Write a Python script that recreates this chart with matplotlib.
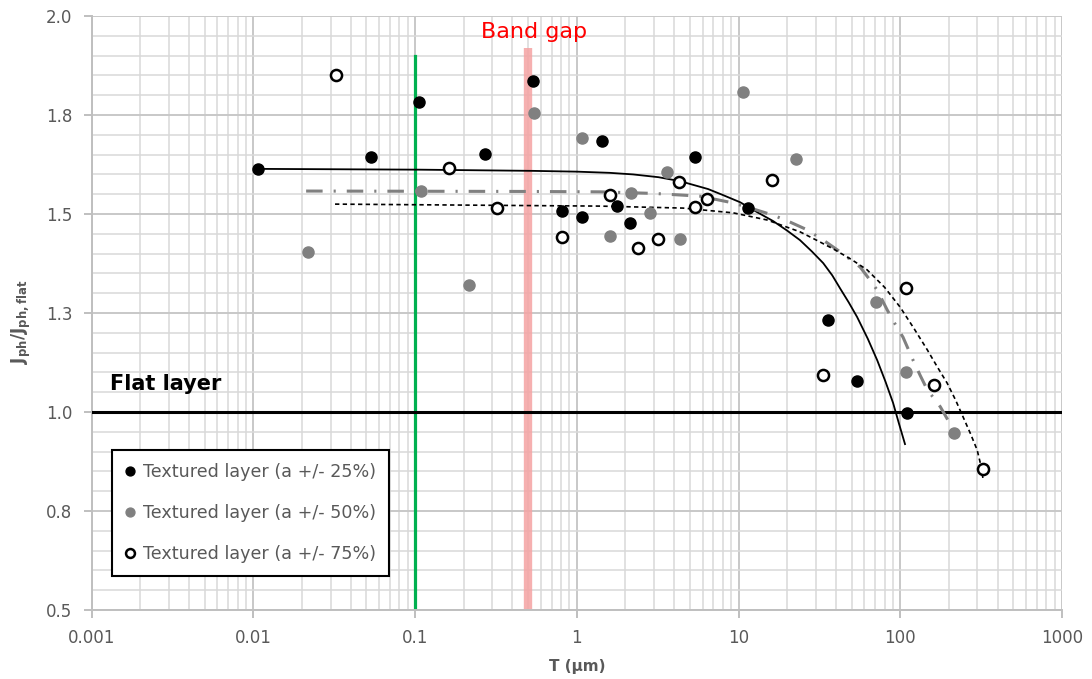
import numpy as np
import matplotlib
matplotlib.use('Agg')
import matplotlib.pyplot as plt
from matplotlib.ticker import FixedLocator, MultipleLocator, LogLocator, NullFormatter

# measured points, T in um, ratio Jph/Jph,flat
t_25 = [0.0107, 0.0537, 0.106, 0.271, 0.537, 0.811, 1.08, 1.43, 1.77, 2.14, 5.39, 11.4, 35.8, 54.1, 110]
j_25 = [1.614, 1.643, 1.783, 1.652, 1.836, 1.508, 1.492, 1.684, 1.520, 1.477, 1.644, 1.514, 1.232, 1.078, 0.997]

t_50 = [0.0218, 0.109, 0.216, 0.545, 1.08, 1.61, 2.17, 2.84, 3.62, 4.35, 10.7, 22.6, 71.0, 109, 215]
j_50 = [1.405, 1.558, 1.321, 1.755, 1.692, 1.444, 1.553, 1.503, 1.606, 1.437, 1.809, 1.640, 1.278, 1.101, 0.947]

t_75 = [0.0325, 0.162, 0.321, 0.811, 1.61, 2.39, 3.18, 4.29, 5.39, 6.42, 16.1, 33.4, 109, 162, 326]
j_75 = [1.851, 1.616, 1.515, 1.442, 1.548, 1.414, 1.437, 1.581, 1.518, 1.537, 1.586, 1.093, 1.313, 1.068, 0.856]

# trend lines
fit_25_t = [0.0107, 0.107, 0.53, 1.0, 1.6, 2.23, 3.2, 4.35, 6.49, 8.0, 10.2, 13, 16.4, 20, 24.0, 28.5,
            33.4, 38, 42.5, 48, 54.1, 63, 72, 81, 90.3, 98, 107]
fit_25_j = [1.614, 1.612, 1.609, 1.607, 1.604, 1.600, 1.593, 1.583, 1.563, 1.548, 1.530, 1.505, 1.482,
            1.458, 1.434, 1.405, 1.376, 1.345, 1.312, 1.277, 1.240, 1.185, 1.131, 1.077, 1.023, 0.972, 0.919]

fit_50_t = [0.0212, 0.5, 1.39, 3.0, 5.79, 9.26, 12.5, 16.4, 21, 26.6, 34, 43, 56.5, 64, 72, 83, 93,
            104, 120, 133, 147, 162, 177, 195, 212, 228]
fit_50_j = [1.558, 1.557, 1.556, 1.552, 1.545, 1.528, 1.512, 1.497, 1.479, 1.460, 1.432, 1.403, 1.366,
            1.337, 1.308, 1.258, 1.222, 1.189, 1.131, 1.092, 1.056, 1.034, 1.013, 0.983, 0.955, 0.930]

fit_75_t = [0.0320, 0.3, 1.39, 4.54, 9.26, 15.0, 24.0, 30, 38.5, 50, 62.4, 80, 99.8, 122, 147, 170,
            195, 220, 245, 272, 299, 314, 326]
fit_75_j = [1.525, 1.522, 1.520, 1.515, 1.503, 1.485, 1.455, 1.435, 1.412, 1.385, 1.359, 1.315, 1.265,
            1.210, 1.157, 1.113, 1.073, 1.030, 0.987, 0.945, 0.904, 0.868, 0.828]

labels = ['Textured layer (a +/- 25%)', 'Textured layer (a +/- 50%)', 'Textured layer (a +/- 75%)']
ytick_vals = [0.5, 0.75, 1.0, 1.25, 1.5, 1.75, 2.0]
ytick_labels = ['0.5', '0.8', '1.0', '1.3', '1.5', '1.8', '2.0']
xtick_vals = [0.001, 0.01, 0.1, 1, 10, 100, 1000]
xtick_labels = ['0.001', '0.01', '0.1', '1', '10', '100', '1000']

band_gap_t = 0.5
green_t = 0.1

txt_grey = '#595959'
grey = '#808080'

plt.rcParams['mathtext.fontset'] = 'dejavusans'

fig = plt.figure(figsize=(10.92, 6.79), dpi=100)
ax = fig.add_axes([0.0839, 0.1016, 0.8886, 0.8748])
ax.set_xscale('log')
ax.set_xlim(0.001, 1000)
ax.set_ylim(0.5, 2.0)

# grid
ax.xaxis.set_major_locator(FixedLocator(xtick_vals))
ax.xaxis.set_minor_locator(LogLocator(base=10, subs=np.arange(2, 10)))
ax.xaxis.set_minor_formatter(NullFormatter())
ax.set_xticklabels(xtick_labels)
ax.yaxis.set_major_locator(FixedLocator(ytick_vals))
ax.yaxis.set_minor_locator(MultipleLocator(0.05))
ax.set_yticklabels(ytick_labels)
ax.grid(which='major', color='#c8c8c8', lw=1.4, zorder=0)
ax.grid(which='minor', color='#d9d9d9', lw=1.1, zorder=0)
ax.set_axisbelow(True)

for s in ['top', 'right']:
    ax.spines[s].set_visible(False)
for s in ['left', 'bottom']:
    ax.spines[s].set_color('#bfbfbf')
    ax.spines[s].set_linewidth(1.4)
ax.tick_params(which='major', direction='out', length=6, width=1.4, color='#bfbfbf',
               labelcolor=txt_grey, labelsize=12)
ax.tick_params(which='minor', length=0)
ax.tick_params(axis='x', pad=8)
ax.tick_params(axis='y', pad=8)

# vertical markers
ax.plot([green_t, green_t], [0.5, 1.90], color='#00b050', lw=2.3, zorder=2)
ax.plot([band_gap_t, band_gap_t], [0.5, 1.92], color='#f5a3a3', lw=6, alpha=0.85, zorder=2,
        solid_capstyle='butt')
ax.text(0.456, 0.973, 'Band gap', transform=ax.transAxes, color='#ff0000', fontsize=16,
        ha='center', va='center')

# flat reference
ax.axhline(1.0, color='black', lw=2.2, zorder=3)
ax.text(0.019, 0.38, 'Flat layer', transform=ax.transAxes, fontsize=15, fontweight='bold',
        va='center', ha='left')

# trend lines
ax.plot(fit_25_t, fit_25_j, color='black', lw=1.3, zorder=3)
ax.plot(fit_50_t, fit_50_j, color=grey, lw=2.2, linestyle=(0, (5.4, 3.6, 0.7, 3.6)), zorder=3)
ax.plot(fit_75_t, fit_75_j, color='black', lw=1.2, linestyle=(0, (2.6, 2.0)), zorder=3)

# points
ax.plot(t_25, j_25, 'o', color='black', ms=8, label=labels[0], zorder=5)
ax.plot(t_50, j_50, 'o', color=grey, ms=8, label=labels[1], zorder=5)
ax.plot(t_75, j_75, 'o', mfc='white', mec='black', mew=1.8, ms=8, label=labels[2], zorder=5)

ax.set_xlabel('T (µm)', fontsize=11, fontweight='bold', color=txt_grey, labelpad=8)
ax.set_ylabel(r'$\mathbf{J_{ph}/J_{ph,flat}}$', fontsize=12, color=txt_grey)
ax.yaxis.set_label_coords(-0.06, 0.485)

leg = ax.legend(loc='upper left', bbox_to_anchor=(0.021, 0.269), borderaxespad=0,
                fontsize=12.6, markerscale=0.8, handlelength=0.6, handletextpad=0.4,
                labelspacing=1.3, borderpad=0.75, fancybox=False, framealpha=1)
leg.get_frame().set_edgecolor('black')
leg.get_frame().set_linewidth(1.5)
for t in leg.get_texts():
    t.set_color(txt_grey)

plt.savefig('out.png', dpi=100)
